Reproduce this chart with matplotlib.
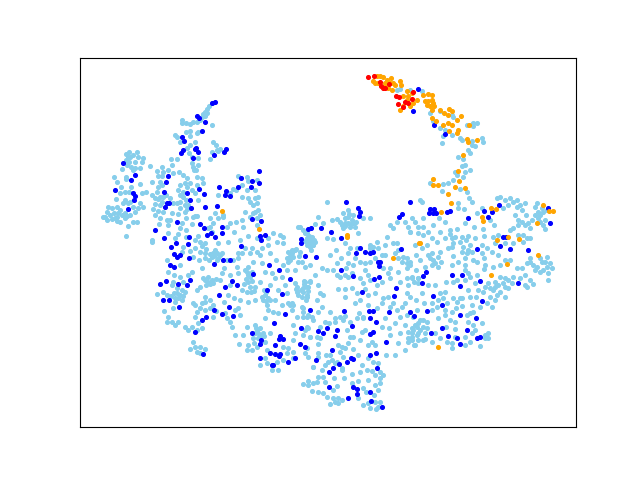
import matplotlib
matplotlib.use("Agg")
import matplotlib.pyplot as plt

sky_a = [(212,103),(209,106),(207,109),(205,112),(207,113),(203,114),(202,117),(205,116),(200,120),(197,122),(193,122),(190,124),(186,123),(182,120),(182,123),(212,125),(190,131),(186,132),(197,133),(198,132),(190,136),(175,135),(177,137),(180,142),(195,142),(190,145),(187,148),(189,153),(192,157),(198,158),(192,163),(193,167),(196,170),(198,165),(194,170),(171,159),(177,159),(213,142),(216,145),(220,149),(217,150),(212,152),(210,159),(218,151),
(126,154),(129,152),(130,157),(137,152),(138,157),(143,158),(142,162),(135,162),(129,162),(127,165),(131,167),(135,168),(140,168),(150,166),(122,169),(114,177),(117,182),(126,177),(126,179),(140,184),(131,187),(121,187),(125,192),(129,192),(120,193),(116,199),(125,200),(130,202),(123,203),(128,203),(140,203),(142,193),(146,192),(117,207),(108,207),(107,212),(105,217),(114,213),(118,213),(122,215),(125,213),(117,217),(135,212),(138,208),(133,207),(103,217),(107,220),(115,218),(120,222),(125,218),(130,215),(128,226),(117,221),(126,236),(133,222),(137,222),(143,207),(152,240),
(162,167),(157,171),(172,165),(168,170),(163,172),(158,176),(152,182),(160,182),(162,176),(158,187),(157,192),(152,195),(155,198),(160,197),(162,202),(153,209),(160,205),(158,211),(173,203),(177,203),(180,208),(185,205),(188,205),(187,209),(178,190),(183,192),(179,172),(183,175),(187,178),(185,183),(190,183),(187,187),(180,185),(173,173),(197,177),(202,178),(203,183),(197,185),(195,193),(198,200),(193,217),(197,216),(215,213),(223,215),(210,218),(218,218),(238,176),(247,177),(248,181),(242,185),(233,189),(230,193),(236,190),(247,190),(242,197),(248,198),(255,198),(253,205),(257,203),(250,202),(258,197),(255,212),(258,210),(257,218),(260,215),(255,190),(257,180),(218,195)]

sky_b = [(163,212),(167,220),(168,225),(172,213),(185,212),(195,216),(192,224),(182,223),(178,234),(168,233),(175,238),(186,237),(183,247),(182,252),(195,248),(200,252),(205,253),(193,257),(167,260),(180,265),(168,272),(192,272),(188,275),(202,268),(152,242),
(200,242),(205,243),(202,246),(218,243),(228,242),(213,253),(217,253),(220,255),(212,257),(217,260),(222,253),(210,227),(213,223),(212,232),(208,228),(230,223),(227,227),(223,217),(242,220),(243,227),(250,217),(253,213),(257,225),(248,236),(257,238),(273,233),(268,238),(280,235),(283,237),(277,242),(283,243),(268,245),(252,248),(257,252),(245,248),(238,253),(242,253),(233,260),(238,258),(250,253),(262,248),(270,253),(260,255),(253,262),(262,263),(248,267),(245,270),(252,272),(248,275),(237,267),(230,275),(222,273),(220,280),(230,285),(208,277),(205,280),(212,280),(208,282),(213,283),(200,287),(242,290),(248,282),(250,287),(247,292),(255,287),(260,282),(265,272),(272,273),(275,278),(282,277),(265,295),(268,298),(263,300),(267,305),(255,300),(248,302),(273,312),(278,313),(268,310),(265,318),(288,252),(292,253),(287,258),(296,249),(290,260),(300,252),(298,227),(305,233),(307,238),(310,240),(308,245),(313,245),(312,237),(305,282),(308,287),(303,292),(307,295),(310,282),(297,287),(297,292),(287,293),(288,303),(293,305),(292,310),(302,307),(303,312),(307,317),(297,317),(317,300),(313,320),(293,325),(295,333),(293,340),(310,337),(320,338),(307,327),(318,357),(308,357),(313,367),(307,348),(293,352),(288,348),
(172,285),(173,282),(182,290),(177,293),(185,292),(178,298),(175,298),(182,300),(175,302),(163,292),(157,294),(167,295),(183,282),(193,303),(164,311),(173,308),(168,317),(167,322),(172,322),(175,325),(178,322),(185,327),(188,330),(192,327),(198,323),(197,330),(202,328),(205,297),(210,300),(202,303),(200,308),(205,310),(197,312),(195,317),(210,308),(213,317),(227,318),(230,322),(232,327),(225,313),(238,308),(240,315),(235,310),(193,342),(195,347),(190,349),(200,347),(197,352),(205,349),(200,353),
(247,327),(235,335),(243,335),(239,344),(255,325),(257,330),(260,328),(255,333),(263,333),(258,338),(253,338),(248,345),(252,350),(247,350),(257,347),(265,342),(270,333),(267,350),(265,358),(267,363),(260,365),(272,370),(278,370),(277,362),(283,360),(287,353),(293,358),(283,347)]

sky_c = [(318,217),(327,202),(348,210),(343,213),(337,219),(345,218),(348,217),(353,215),(352,220),(348,223),(353,223),(345,223),(350,227),(355,227),(343,228),(363,218),(370,218),(358,233),(342,225),(332,220),(323,223),(315,224),(300,227),(303,230),(307,233),(308,238),(312,240),(308,243),(313,245),(315,242),(310,247),(307,245),(327,238),(333,239),(345,243),(350,248),(348,253),(357,248),(355,258),(353,265),(348,263),(370,245),(377,242),(373,247),(378,248),(387,237),(385,245),(370,248),(375,258),(385,255),(382,255),(393,243),(397,243),(398,250),(395,253),(398,258),(403,257),(402,262),(407,263),(407,258),(410,265),(407,268),(390,225),(393,228),(397,222),(405,222),(408,227),(410,232),(418,233),(390,268),(388,273),(398,272),(390,278),(407,278),(412,278),(408,285),(418,278),(400,282),(383,268),(327,270),(333,270),(337,275),(340,277),(345,275),(348,277),(352,273),(360,278),(365,270),(368,275),(370,280),(338,289),(345,289),(352,288),(345,297),(357,293),(365,289),(360,300),(355,303),(368,295),(382,303),(383,298),(388,297),(393,303),(390,307),(397,310),(402,307),(405,303),(410,297),(417,310),(413,317),(407,315),(400,317),(320,293),(323,295),(304,281),(310,281),(295,283),(296,289),(301,290),(307,287),(307,297),(298,295),(290,305),(292,303),(303,308),(322,307),(292,250),(295,250),(299,256),(305,267),(302,262),(345,316),(357,318),(363,318),(335,318),
(303,317),(308,315),(312,317),(305,330),(308,328),(303,335),(310,337),(317,337),(320,327),(325,322),(329,323),(335,322),(340,317),(343,320),(347,330),(350,337),(353,337),(362,332),(365,330),(372,342),(363,317),(359,313),(382,327),(389,328),(400,333),(408,332),(412,328),(415,325),(418,323),(412,333),(417,335),(420,330),(423,340),(408,342),(414,345),(427,328),(423,320),(318,344),(305,353),(318,353),(338,345),(342,347),(348,343),(345,348),(340,352),(343,357),(353,349),(358,355),(325,365),(328,362),(332,360),(335,363),(322,370),(313,367),(342,370),(337,362),(342,368),(362,365),(373,362),(378,363),(372,371),(380,372),(383,375),(375,375),(380,378),(375,385),(380,383),(378,390),(368,380),(358,381),(352,383),(363,388),(358,398),(323,377),(318,377),(325,382),(317,382),(313,383),(308,381),(303,384),(308,385),(312,391),(318,392),(323,393),(327,397),(333,390),(337,386),(333,398),(338,398),(342,400),(335,402),(330,404),(338,403),(363,405),(368,403),(370,408),(375,402),(378,407),(380,402),(376,409)]

sky_d = [(455,172),(465,172),(470,170),(457,175),(463,177),(448,183),(443,184),(430,183),(453,180),(460,189),(442,191),(467,192),(469,198),(472,202),(458,203),(458,208),(464,209),(439,218),(445,222),(420,200),(422,202),(423,218),(412,218),(415,222),(418,227),(423,227),(410,232),(423,235),(450,230),(450,234),(457,229),(432,238),(437,242),(452,238),(455,237),(462,237),(453,243),(448,248),(452,247),(460,242),(463,247),(468,250),(462,252),(467,253),(472,252),(473,260),(465,258),(453,256),(482,245),(487,248),(492,252),(482,253),(493,237),(498,235),(510,230),(513,228),(523,235),(527,238),(523,242),(513,243),(500,197),(497,198),(482,208),(477,213),(465,223),(474,227),(483,229),(490,220),(510,198),(513,202),(517,200),(520,205),(517,207),(522,210),(503,208),(525,203),(518,220),(522,222),(518,225),(525,225),(528,223),(530,228),(537,203),(538,212),(535,215),(540,215),(543,212),(538,218),(545,220),(543,225),(545,229),(542,208),(427,245),(432,253),(440,252),(428,255),(430,258),(433,260),(435,263),(438,257),(432,265),(415,245),(422,248),(410,262),(416,270),(412,277),(418,278),(418,283),(438,267),(465,265),(468,273),(465,270),(477,275),(485,265),(484,269),(453,282),(457,280),(465,280),(470,277),(493,267),(495,282),(500,277),(505,278),(503,283),(508,280),(513,277),(517,268),(510,260),(505,260),(522,268),(527,263),(530,258),(533,265),(537,267),(542,262),(547,257),(550,263),(547,267),(543,270),(548,273),(548,280),(525,275),(530,280),(533,284),(525,285),(527,287),(488,283),(485,287),(490,288),(495,287),(498,285),(500,292),(497,295),(505,287),(493,290),(483,292),(478,290),(470,297),(453,298),(457,302),(460,298),(462,306),(445,292),(440,293),(443,298),(438,300),(447,303),(422,293),(432,303),(437,307),(445,310),(445,315),(432,310),(492,307),(487,303),(470,313),(473,312),(467,315),(482,323),(473,325),(475,330),(468,322),(455,322),(427,322),(420,320),(417,327),(413,330),(418,333),(412,337),(423,327),(425,333),(435,333),(425,339),(415,345),(447,342),(452,343),(452,348),(455,337),(465,337),(470,342),(465,345),(480,346),(472,333),(485,335),(488,333),(488,338),(485,338),(446,327),(455,329),
(397,90),(400,89),(410,90),(422,91),(430,113),(440,111),(433,121),(440,128),(445,130),(452,135),(443,136),(442,143),(452,115),(453,117),(467,125),(473,123),(477,123),(473,126),(460,138),(462,140),(482,138),(483,142),(472,145),(475,146),(468,150),(470,153),(458,157),(463,159),(465,165),(462,166),(472,141)]

sky_e = [(214,256),(210,254),(215,250),(218,258),(209,260),(205,258),(203,278),(210,284),(206,285),(216,279),(247,272),(250,277),(246,279),(252,281),(244,284),(251,292),(254,291),(264,290),(266,292),(262,297),(266,301),(270,300),(304,284),(303,288),(308,291),(302,297),(306,300),(311,243),(305,241),(309,236),(314,240),(311,250),(290,256),(293,257),(288,262),(177,288),(180,295),(183,296),(174,293),(171,296),(258,333),(261,335),(256,328),(264,336),(254,343),(345,226),(351,224),(340,222),(356,222),(349,214),(128,157),(133,155),(126,160),(133,170),(110,215),(112,219),(120,210),(127,216),(112,208),(162,185),(163,197),(166,195),(158,199),(155,204),(186,200),(183,197),(180,202),(192,190),(180,195),(170,198),(155,215),(160,218),(170,220),(178,214),(186,218),(180,228),(186,230),(159,224),(198,236),(195,240),(206,249),(190,251),(199,260),(180,277),(174,275),(197,290),(205,302),(213,305),(195,305),(216,311),(228,295),(234,298),(224,302),(240,300),(278,290),(275,300),(282,305),(285,285),(270,285),(238,273),(227,260),(224,268),(240,240),(234,232),(236,222),(245,212),(287,270),(283,265),(276,260),(295,270),(298,262),(310,265),(315,275),(318,285),(322,268),(330,255),(336,250),(341,258),(337,263),(346,268),(360,262),(365,263),(370,262),(363,283),(377,285),(382,282),(375,293),(368,305),(377,308),(385,318),(395,323),(390,335),(398,343),(405,350),(395,355),(386,355),(375,345),(368,345),(360,340),(350,322),(330,312),(318,312),(326,355),(330,355),(334,378),(344,378),(352,374),(360,372),(367,370),(368,358),(374,395),(366,392),(408,338),(412,340),(418,340),(405,325),(432,342),(440,338),(438,318),(450,320),(452,312),(456,308),(462,298),(468,290),(475,283),(476,297),(480,307),(472,305),(495,300),(505,297),(490,297),(508,288),(512,283),(520,278),(535,270),(540,272),(530,262),(540,258),(545,262),(552,268),(500,265),(498,255),(495,243),(505,243),(518,235),(530,238),(526,215),(515,215),(508,205),(505,200),(494,225),(484,236),(475,238),(468,236),(445,238),(440,232),(428,232),(433,225),(425,267),(420,260),(416,255),(414,282),(428,285),(435,285),(446,282),(424,303),(416,300),(407,293),(441,262),(452,265),(458,262),(466,240),(470,245),(477,262),(484,258),(547,210),(540,222),(535,207),(532,220)]

blue = [(215,102),(212,103),(197,116),(199,118),(205,122),(202,131),(182,137),(184,141),(183,150),(181,153),(196,148),(198,152),(195,149),(193,158),(226,149),(224,152),(214,155),(123,163),(135,175),(131,180),(115,190),(133,193),(135,196),(134,200),(128,209),(168,176),(166,182),(164,192),(167,203),(169,203),(165,207),(187,193),(190,200),(191,208),(199,189),(204,194),(205,207),(219,187),(226,191),(225,195),(230,196),(217,206),(241,178),(238,187),(252,181),(251,187),(259,171),(259,183),(252,219),
(177,222),(155,230),(164,238),(200,224),(204,228),(207,235),(211,233),(215,237),(222,227),(222,233),(189,237),(188,244),(176,243),(171,247),(174,254),(180,255),(177,257),(189,258),(170,265),(174,267),(166,281),(160,284),(178,284),(187,285),(190,280),(163,300),(169,300),(179,307),(214,264),(223,260),(230,260),(241,246),(261,221),(260,236),(265,235),(261,240),(301,239),(301,243),(308,229),(311,228),(305,256),(316,257),(269,265),(279,270),(253,274),(290,279),(267,290),(282,294),(232,281),(237,285),(225,287),(219,295),(229,307),(214,310),(222,314),(233,316),(206,317),(202,320),(195,332),(203,354),(285,314),(310,310),(274,323),(301,328),(318,331),(252,333),(280,336),(279,339),(283,339),(261,340),(260,344),(275,345),(300,344),(305,347),(270,353),(275,354),(280,354),(279,356),(260,358),(295,358),(288,362),(316,360),(272,365),(273,365),
(346,202),(358,208),(360,212),(359,216),(410,202),(402,214),(399,217),(321,228),(331,232),(341,238),(360,248),(356,253),(365,252),(370,253),(373,252),(378,262),(380,262),(379,266),(401,249),(341,270),(353,276),(374,279),(379,277),(396,288),(362,292),(394,296),(344,311),(369,311),(373,311),(370,318),(389,312),(410,312),
(414,316),(376,322),(352,326),(327,328),(337,330),(323,333),(335,336),(373,332),(370,334),(386,342),(332,350),(370,355),(376,353),(347,362),(351,358),(353,359),(339,364),(333,368),(329,372),(377,368),(329,387),(353,387),(357,389),(357,394),(370,392),(348,398),(371,401),(382,407),
(430,209),(434,209),(429,213),(433,213),(436,213),(447,212),(450,211),(468,218),(484,211),(492,212),(488,217),(499,205),(548,208),(550,223),(503,237),(506,237),(500,246),(510,249),(528,250),(477,249),(426,272),(423,276),(422,283),(452,275),(462,275),(480,281),(460,286),(518,283),(433,296),(442,305),(482,301),(427,311),(460,315),(476,318),(442,328),(467,330),(431,333),(448,336),(457,338),(460,344),(477,338),(480,337),
(418,89),(413,111),(434,125),(445,134)]

orange = [(222,211),(259,229),(347,235),(347,237),(393,258),(419,243),(433,179),(433,185),(438,185),(455,187),(465,188),(448,194),(458,171),(459,181),(451,203),(441,212),(491,208),(496,209),(482,217),(483,221),(508,237),(497,240),(519,239),(543,205),(549,211),(553,211),(537,223),(420,243),(538,255),(507,264),(491,275),(438,347),
(373,81),(377,76),(380,76),(383,77),(387,80),(391,78),(375,83),(378,83),(385,83),(390,83),(393,83),(395,85),(400,81),(401,85),(388,88),(392,90),(385,86),(407,91),(403,96),(408,96),(412,93),(417,100),(413,103),(400,110),(403,106),(410,106),(407,100),(423,95),(428,94),(432,95),(425,101),(428,101),(432,100),(433,103),(427,105),(430,106),(434,106),(432,110),(440,110),(449,109),(452,111),(444,113),(448,115),(436,121),(432,118),(457,120),(461,116),(443,125),(448,123),(452,125),(449,131),(458,130),(457,133),(469,125),(467,139),(468,142),(477,140),(463,155)]

red = [(368,77),(374,76),(380,82),(381,86),(383,88),(385,88),(389,84),(396,96),(399,97),(413,92),(412,99),(405,102),(408,103),(398,104),(403,107)]

sky = sky_a + sky_b + sky_c + sky_d + sky_e

fig, ax = plt.subplots(figsize=(6.4, 4.8), dpi=100)
for pts, col in [(sky, "skyblue"), (blue, "blue"), (orange, "orange"), (red, "red")]:
    ax.scatter([p[0] for p in pts], [p[1] for p in pts], s=7, c=col)
ax.set_xlim(80, 576)
ax.set_ylim(427, 58)
ax.set_xticks([])
ax.set_yticks([])
fig.savefig("out.png", dpi=100)
